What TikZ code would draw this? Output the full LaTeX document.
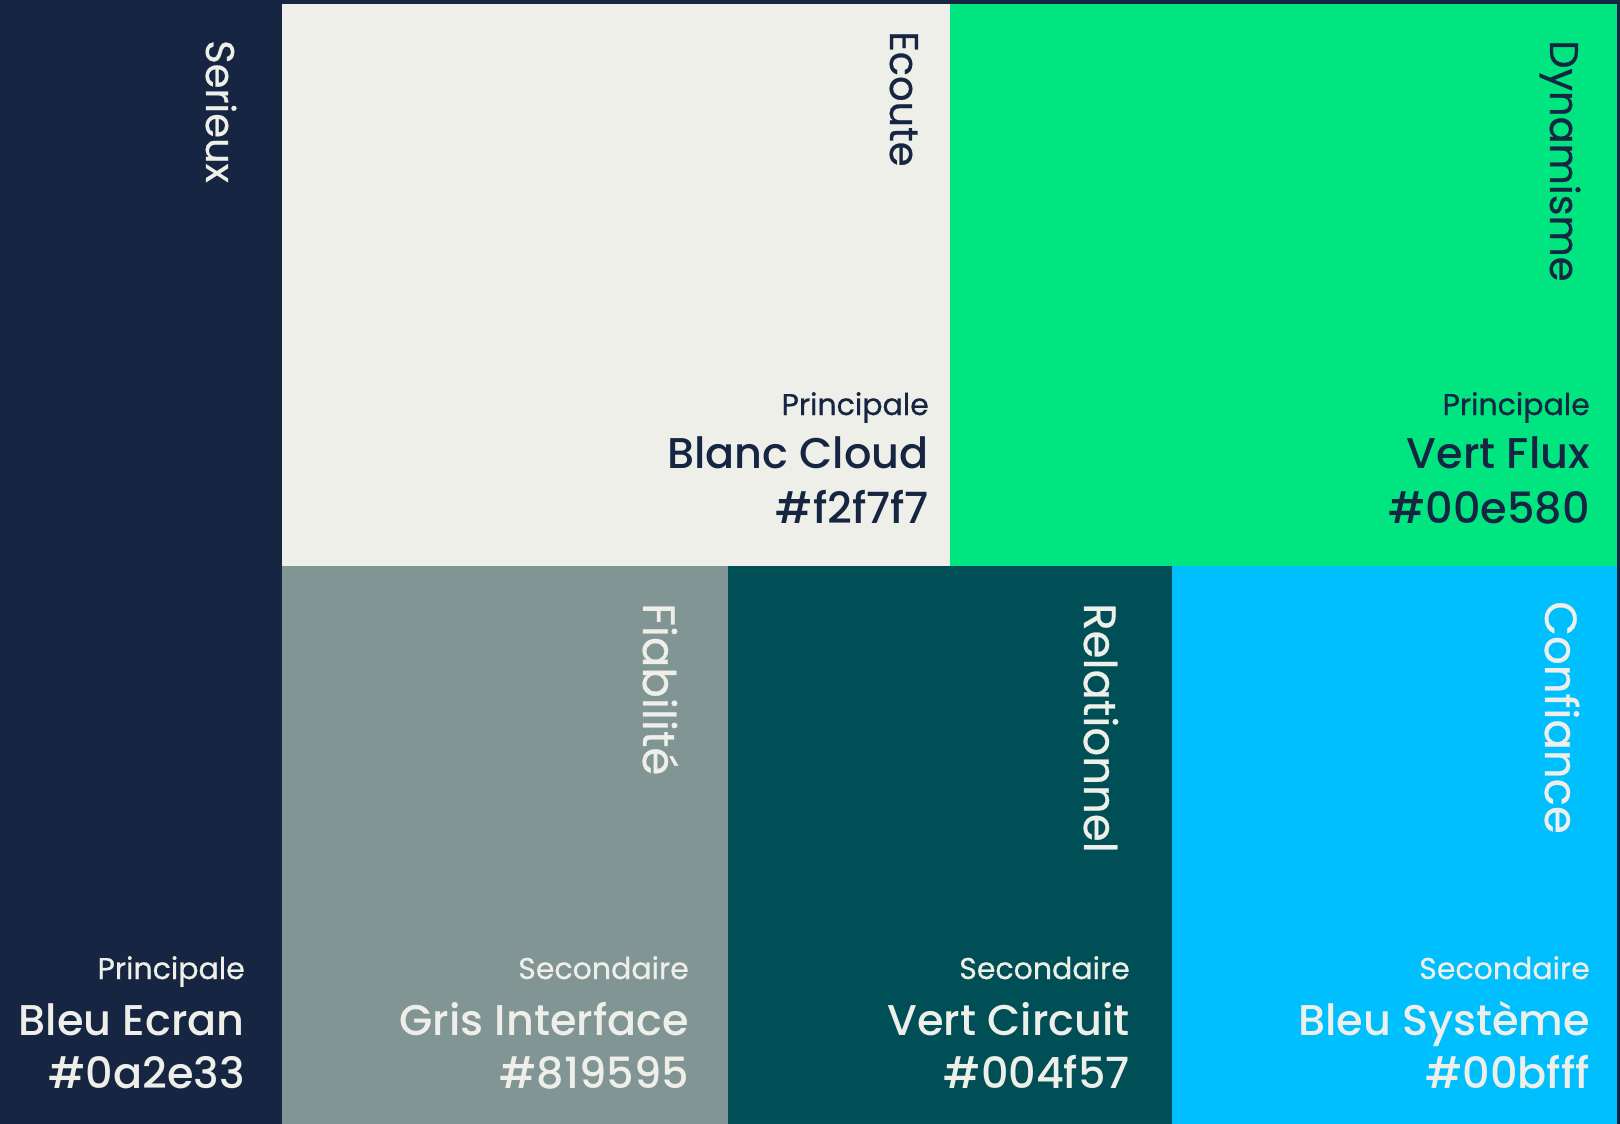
\documentclass[tikz,border=0pt]{standalone}
\usepackage{fontspec}
\usepackage{tikz}
\usepackage{xcolor}
\setmainfont{Poppins}
\newfontfamily\medfont{Poppins Medium}
\newfontfamily\tagfont[FakeBold=0.6]{Poppins}
\usetikzlibrary{positioning}
\definecolor{bleuecran}{RGB}{22,38,66}
\definecolor{blanccloud}{RGB}{239,239,233}
\definecolor{vertflux}{RGB}{0,229,128}
\definecolor{grisinterface}{RGB}{129,149,149}
\definecolor{vertcircuit}{RGB}{0,79,87}
\definecolor{bleusysteme}{RGB}{0,191,255}

\begin{document}
\begin{tikzpicture}[
    x=1pt, y=1pt,
    block/.style={rectangle, inner sep=0pt, outer sep=0pt, anchor=north west},
    tag/.style={rotate=-90, anchor=base west, inner sep=0pt, font=\tagfont\fontsize{40}{40}\selectfont},
    bigtag/.style={tag, font=\tagfont\fontsize{45}{45}\selectfont},
    kind/.style={anchor=base east, inner sep=0pt, font=\tagfont\fontsize{30}{30}\selectfont},
    title/.style={anchor=base east, inner sep=0pt, font=\medfont\fontsize{43}{43}\selectfont}
]
\useasboundingbox (0,0) rectangle (1620,-1124);
\fill[bleuecran] (0,0) rectangle (1620,-1124);

% colour blocks
\node[block, fill=bleuecran, minimum width=282pt, minimum height=1124pt] (ecran) at (0,0) {};
\node[block, fill=blanccloud, minimum width=668pt, minimum height=562pt] (blanc) at (282,-4) {};
\node[block, fill=vertflux, minimum width=667pt, minimum height=562pt] (flux) at (950,-4) {};
\node[block, fill=grisinterface, minimum width=446pt, minimum height=558pt] (gris) at (282,-566) {};
\node[block, fill=vertcircuit, minimum width=444pt, minimum height=558pt] (circuit) at (728,-566) {};
\node[block, fill=bleusysteme, minimum width=445pt, minimum height=558pt] (systeme) at (1172,-566) {};

% vertical words
\node[tag, text=blanccloud] (serieux) at ([xshift=-76pt, yshift=-40pt]ecran.north east) {Serieux};
\node[tag, text=bleuecran] (ecoute) at ([xshift=-60pt, yshift=-27pt]blanc.north east) {Ecoute};
\node[tag, text=bleuecran] (dynamisme) at ([xshift=-67pt, yshift=-36pt]flux.north east) {Dynamisme};
\node[bigtag, text=blanccloud] (fiabilite) at ([xshift=-85pt, yshift=-37pt]gris.north east) {Fiabilité};
\node[bigtag, text=blanccloud] (relationnel) at ([xshift=-88pt, yshift=-37pt]circuit.north east) {Relationnel};
\node[bigtag, text=blanccloud] (confiance) at ([xshift=-72pt, yshift=-35pt]systeme.north east) {Confiance};

% names and codes
\node[kind, text=bleuecran] (blanckind) at ([xshift=-21pt, yshift=151pt]blanc.south east) {Principale};
\node[title, text=bleuecran] (blancname) at ([xshift=-21pt, yshift=98pt]blanc.south east) {Blanc Cloud};
\node[title, text=bleuecran] (blanchex) at ([xshift=-21pt, yshift=43pt]blanc.south east) {\#f2f7f7};

\node[kind, text=bleuecran] (fluxkind) at ([xshift=-27pt, yshift=151pt]flux.south east) {Principale};
\node[title, text=bleuecran] (fluxname) at ([xshift=-27pt, yshift=98pt]flux.south east) {Vert Flux};
\node[title, text=bleuecran] (fluxhex) at ([xshift=-27pt, yshift=43pt]flux.south east) {\#00e580};

\node[kind, text=blanccloud] (ecrankind) at ([xshift=-37pt, yshift=145pt]ecran.south east) {Principale};
\node[title, text=blanccloud] (ecranname) at ([xshift=-37pt, yshift=89pt]ecran.south east) {Bleu Ecran};
\node[title, text=blanccloud] (ecranhex) at ([xshift=-37pt, yshift=36pt]ecran.south east) {\#0a2e33};

\node[kind, text=blanccloud] (griskind) at ([xshift=-39pt, yshift=145pt]gris.south east) {Secondaire};
\node[title, text=blanccloud] (grisname) at ([xshift=-39pt, yshift=89pt]gris.south east) {Gris Interface};
\node[title, text=blanccloud] (grishex) at ([xshift=-39pt, yshift=36pt]gris.south east) {\#819595};

\node[kind, text=blanccloud] (circuitkind) at ([xshift=-42pt, yshift=145pt]circuit.south east) {Secondaire};
\node[title, text=blanccloud] (circuitname) at ([xshift=-42pt, yshift=89pt]circuit.south east) {Vert Circuit};
\node[title, text=blanccloud] (circuithex) at ([xshift=-42pt, yshift=36pt]circuit.south east) {\#004f57};

\node[kind, text=blanccloud] (systemekind) at ([xshift=-27pt, yshift=145pt]systeme.south east) {Secondaire};
\node[title, text=blanccloud] (systemename) at ([xshift=-27pt, yshift=89pt]systeme.south east) {Bleu Système};
\node[title, text=blanccloud] (systemehex) at ([xshift=-27pt, yshift=36pt]systeme.south east) {\#00bfff};

\end{tikzpicture}
\end{document}
